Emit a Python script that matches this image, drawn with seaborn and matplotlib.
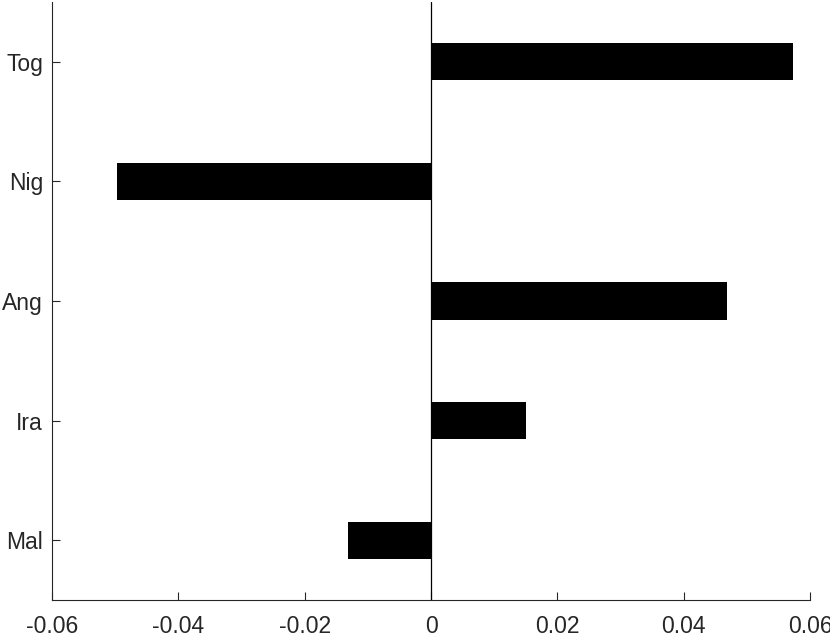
import matplotlib
matplotlib.use("Agg")
import matplotlib.pyplot as plt
import seaborn as sns
import pandas as pd

categories = ["Tog", "Nig", "Ang", "Ira", "Mal"]
values = [0.0573, -0.0497, 0.0468, 0.0150, -0.0132]
xticks = [-0.06, -0.04, -0.02, 0, 0.02, 0.04, 0.06]
xticklabels = ["-0.06", "-0.04", "-0.02", "0", "0.02", "0.04", "0.06"]

sns.set_theme(style="white")
plt.rcParams["font.family"] = ["Liberation Sans", "DejaVu Sans"]
plt.rcParams["axes.unicode_minus"] = False

df = pd.DataFrame({"country": categories, "value": values})

fig = plt.figure(figsize=(8.3, 6.37), dpi=100)
ax = fig.add_axes([52 / 830, (637 - 600) / 637, 758 / 830, 598 / 637])

sns.barplot(data=df, x="value", y="country", order=categories, color="black",
            width=0.31, saturation=1, linewidth=0, ax=ax)

ax.axvline(0, color="black", lw=0.9, zorder=3)
ax.set_xlim(-0.06, 0.06)
ax.set_ylim(4.5, -0.5)
ax.set_xticks(xticks)
ax.set_xticklabels(xticklabels)
ax.set_xlabel("")
ax.set_ylabel("")

for s in ["top", "right"]:
    ax.spines[s].set_visible(False)
for s in ["left", "bottom"]:
    ax.spines[s].set_color("#262626")
    ax.spines[s].set_linewidth(0.8)

ax.tick_params(axis="both", direction="in", length=5.5, width=0.8,
               color="#262626", labelcolor="#262626", labelsize=16.5)
ax.tick_params(axis="x", pad=10.5)
ax.tick_params(axis="y", pad=6.5)
ax.tick_params(left=True, bottom=True)

fig.savefig("out.png", dpi=100)
